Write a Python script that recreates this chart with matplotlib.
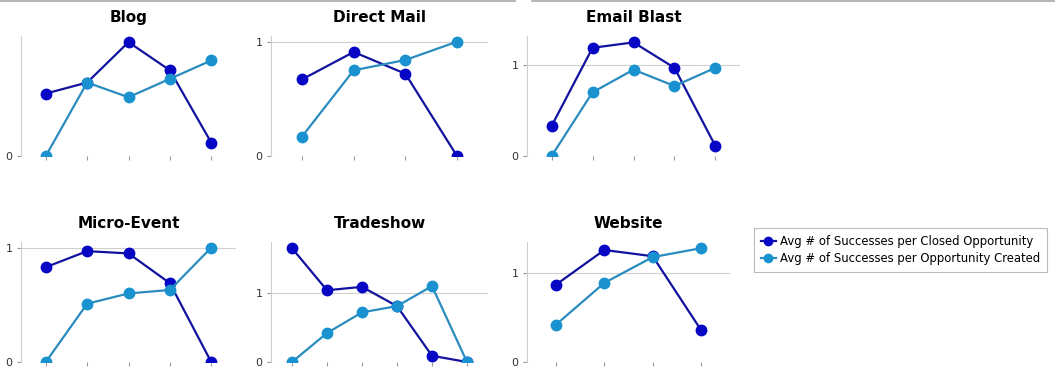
import matplotlib
matplotlib.use("Agg")
import matplotlib.pyplot as plt
from matplotlib.lines import Line2D
from matplotlib.ticker import MultipleLocator

# values (x labels are unreadable there, so left blank)
titles = ["Blog", "Direct Mail", "Email Blast", "Micro-Event", "Tradeshow", "Website"]
closed = [
    [0.51, 0.60, 0.93, 0.70, 0.11],
    [0.67, 0.91, 0.72, 0.0],
    [0.33, 1.19, 1.25, 0.97, 0.11],
    [0.83, 0.97, 0.95, 0.69, 0.0],
    [1.65, 1.04, 1.09, 0.81, 0.09, 0.0],
    [0.87, 1.26, 1.19, 0.36],
]
created = [
    [0.0, 0.60, 0.48, 0.63, 0.78],
    [0.17, 0.75, 0.84, 1.0],
    [0.0, 0.70, 0.95, 0.77, 0.97],
    [0.0, 0.51, 0.60, 0.63, 1.0],
    [0.0, 0.42, 0.72, 0.81, 1.10, 0.0],
    [0.42, 0.89, 1.18, 1.28],
]
ymax = [0.98, 1.05, 1.32, 1.05, 1.74, 1.35]
series_names = ["Avg # of Successes per Closed Opportunity",
                "Avg # of Successes per Opportunity Created"]

DARK = "#0606c4"
DARK_LINE = "#12129e"
LIGHT = "#1992cf"
LIGHT_LINE = "#2a8cbe"
GRID = "#cfcfcf"

W, H = 1055, 371
fig = plt.figure(figsize=(W / 100, H / 100), dpi=100)

# axes boxes in pixels: left, right, bottom
boxes = [(21, 236, 156), (271, 488, 156), (527, 740, 156),
         (21, 236, 362), (271, 488, 362), (527, 730, 362)]

for i, (x0, x1, yb) in enumerate(boxes):
    ax = fig.add_axes([x0 / W, 1 - yb / H, (x1 - x0) / W, 120 / H])
    n = len(closed[i])
    xs = list(range(n))
    ax.plot(xs, closed[i], "-o", color=DARK_LINE, mfc=DARK, mec=DARK, lw=1.6, ms=7.5, zorder=3)
    ax.plot(xs, created[i], "-o", color=LIGHT_LINE, mfc=LIGHT, mec=LIGHT, lw=1.6, ms=7.5, zorder=3)
    ax.set_xlim(-0.6, n - 0.4)
    ax.set_ylim(0, ymax[i])
    ax.yaxis.set_major_locator(MultipleLocator(1))
    ax.set_xticks(xs)
    ax.set_xticklabels([])
    ax.grid(axis="y", color=GRID, lw=0.8)
    ax.set_axisbelow(True)
    for s in ("top", "right", "bottom"):
        ax.spines[s].set_visible(False)
    ax.spines["left"].set_color(GRID)
    ax.spines["left"].set_linewidth(0.8)
    ax.tick_params(axis="y", length=3, color="#999999", labelsize=8, pad=3, labelcolor="#333333")
    ax.tick_params(axis="x", length=3, color="#999999", direction="out")
    ax.set_title(titles[i], fontsize=11, fontweight="bold", pad=10)

handles = [Line2D([], [], color=DARK_LINE, marker="o", mfc=DARK, mec=DARK, lw=1.6, ms=6),
           Line2D([], [], color=LIGHT_LINE, marker="o", mfc=LIGHT, mec=LIGHT, lw=1.6, ms=6)]
leg = fig.legend(handles, series_names, loc="upper left",
                 bbox_to_anchor=(748 / W, 1 - 222 / H), fontsize=8.4,
                 frameon=True, fancybox=False, handlelength=1.3, handletextpad=0.3,
                 borderpad=0.6, labelspacing=0.35)
leg.get_frame().set_edgecolor("#aaaaaa")
leg.get_frame().set_linewidth(0.8)

# thin gray border along the top edge
fig.add_artist(Line2D([0, 515 / W], [0.997, 0.997], color="#a8a8a8", lw=1.2))
fig.add_artist(Line2D([532 / W, 1], [0.997, 0.997], color="#a8a8a8", lw=1.2))

fig.savefig("out.png", dpi=100)
